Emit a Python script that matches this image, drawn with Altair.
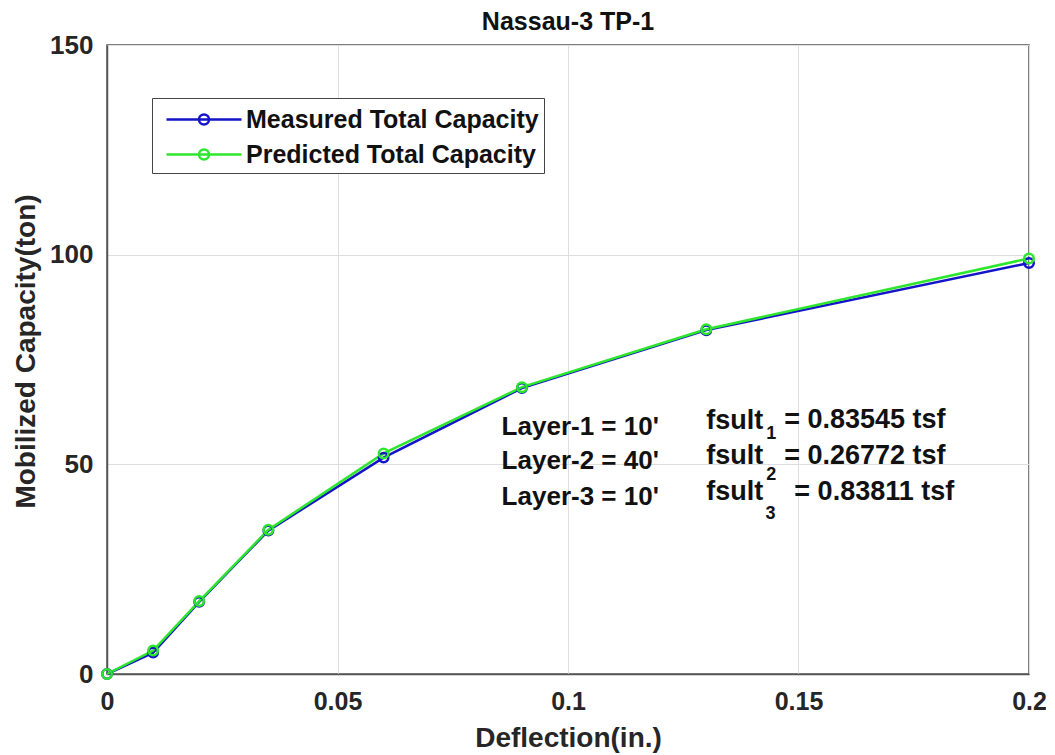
import altair as alt
import pandas as pd

# ---- data ----
deflection = [0, 0.01, 0.02, 0.035, 0.06, 0.09, 0.13, 0.2]
measured = [0, 5.1, 17.2, 34.2, 51.6, 68.2, 82.0, 98.0]
predicted = [0, 5.6, 17.4, 34.4, 52.6, 68.4, 82.2, 99.1]
series_names = ["Measured Total Capacity", "Predicted Total Capacity"]
series_colors = ["#1414c8", "#2ee62e"]
x_ticks = [0, 0.05, 0.1, 0.15, 0.2]
y_ticks = [0, 50, 100, 150]

layer_labels = ["Layer-1 = 10'", "Layer-2 = 40'", "Layer-3 = 10'"]
fsult_word = ["fsult", "fsult", "fsult"]
fsult_subs = ["1", "2", "3"]
fsult_values = ["= 0.83545 tsf", "= 0.26772 tsf", "= 0.83811 tsf"]

# annotation anchor positions (data units)
layer_x = [0.0856, 0.0856, 0.0856]
layer_y = [59.0, 50.8, 42.1]
fsult_x = [0.130, 0.130, 0.130]
fsult_y = [60.3, 51.9, 43.4]
sub_x = [0.1441, 0.1441, 0.1439]
sub_y = [57.2, 47.5, 38.2]
value_x = [0.1469, 0.1469, 0.1491]
value_y = [60.6, 52.0, 43.4]

FONT = "Liberation Sans"

rows = []
for name, vals in zip(series_names, [measured, predicted]):
    for i, (d, v) in enumerate(zip(deflection, vals)):
        rows.append({"Deflection": d, "Capacity": v, "Series": name, "idx": i})
df = pd.DataFrame(rows)

xs = alt.Scale(domain=[0, 0.2], nice=False, zero=False)
ys = alt.Scale(domain=[0, 150], nice=False)
cs = alt.Scale(domain=series_names, range=series_colors)

# line-with-marker legend glyph (unit = sqrt(symbolSize)/2 = 15 px)
legend_symbol = ("M-0.467,0H4.533"
                 "M2.366,0A0.333,0.333 0 1,1 1.7,0A0.333,0.333 0 1,1 2.366,0")

x_enc = alt.X("Deflection:Q", scale=xs,
              axis=alt.Axis(values=x_ticks, format="~g", title="Deflection(in.)",
                            titleX=461, titleY=64, titleBaseline="middle"))
y_enc = alt.Y("Capacity:Q", scale=ys,
              axis=alt.Axis(values=y_ticks, title="Mobilized Capacity(ton)",
                            titleX=-81, titleY=306, titleBaseline="middle", titleAngle=-90))
color_enc = alt.Color("Series:N", scale=cs, sort=series_names,
                      legend=alt.Legend(title=None, orient="none", legendX=45, legendY=53,
                                        symbolType=legend_symbol, symbolSize=900,
                                        symbolStrokeWidth=2.5, labelFont=FONT,
                                        labelFontSize=25, labelFontWeight="bold",
                                        labelColor="#111111", labelLimit=600,
                                        labelOffset=56, strokeColor="#444444",
                                        fillColor="white", padding=5, rowPadding=5))

base = alt.Chart(df)
lines = base.mark_line(strokeWidth=2.5).encode(
    x=x_enc, y=y_enc, color=color_enc, order="idx:Q", detail="Series:N")
points = base.mark_point(shape="circle", filled=False, size=90, strokeWidth=2.5, opacity=1).encode(
    x="Deflection:Q", y="Capacity:Q", color=alt.Color("Series:N", scale=cs, sort=series_names))

ann = pd.DataFrame({
    "lx": layer_x, "ly": layer_y, "lt": layer_labels,
    "fx": fsult_x, "fy": fsult_y, "ft": fsult_word,
    "sx": sub_x, "sy": sub_y, "st": fsult_subs,
    "vx": value_x, "vy": value_y, "vt": fsult_values,
})
abase = alt.Chart(ann)
t_layer = abase.mark_text(align="left", baseline="middle", font=FONT, fontSize=26,
                          fontWeight="bold", color="#111111").encode(
    x=alt.X("lx:Q", scale=xs), y=alt.Y("ly:Q", scale=ys), text="lt:N")
t_fsult = abase.mark_text(align="left", baseline="middle", font=FONT, fontSize=27,
                          fontWeight="bold", color="#111111").encode(
    x=alt.X("fx:Q", scale=xs), y=alt.Y("fy:Q", scale=ys), text="ft:N")
t_sub = abase.mark_text(align="center", baseline="middle", font=FONT, fontSize=18,
                        fontWeight="bold", color="#111111").encode(
    x=alt.X("sx:Q", scale=xs), y=alt.Y("sy:Q", scale=ys), text="st:N")
t_val = abase.mark_text(align="left", baseline="middle", font=FONT, fontSize=27,
                        fontWeight="bold", color="#111111").encode(
    x=alt.X("vx:Q", scale=xs), y=alt.Y("vy:Q", scale=ys), text="vt:N")

chart = alt.layer(lines, points, t_layer, t_fsult, t_sub, t_val).properties(
    width=922, height=629,
    title=alt.TitleParams("Nassau-3 TP-1", font=FONT, fontSize=25, fontWeight="bold",
                          color="#111111", anchor="middle", offset=-3),
    autosize=alt.AutoSizeParams(type="none"),
    padding={"left": 99, "top": 37, "right": 17, "bottom": 80},
).configure_axis(
    labelFont=FONT, labelFontSize=26, labelFontWeight="bold", labelColor="#262626",
    titleFont=FONT, titleFontSize=28, titleFontWeight="bold", titleColor="#262626",
    grid=True, gridColor="#dedede", gridWidth=1,
    domainColor="#555555", domainWidth=1.5, ticks=False,
).configure_axisX(labelPadding=15, labelFlush=False, labelFontSize=25).configure_axisY(
    labelPadding=14
).configure_view(
    stroke="#555555", strokeWidth=1.5
)

chart.save("out.html", embed_options={"renderer": "svg", "actions": False})
